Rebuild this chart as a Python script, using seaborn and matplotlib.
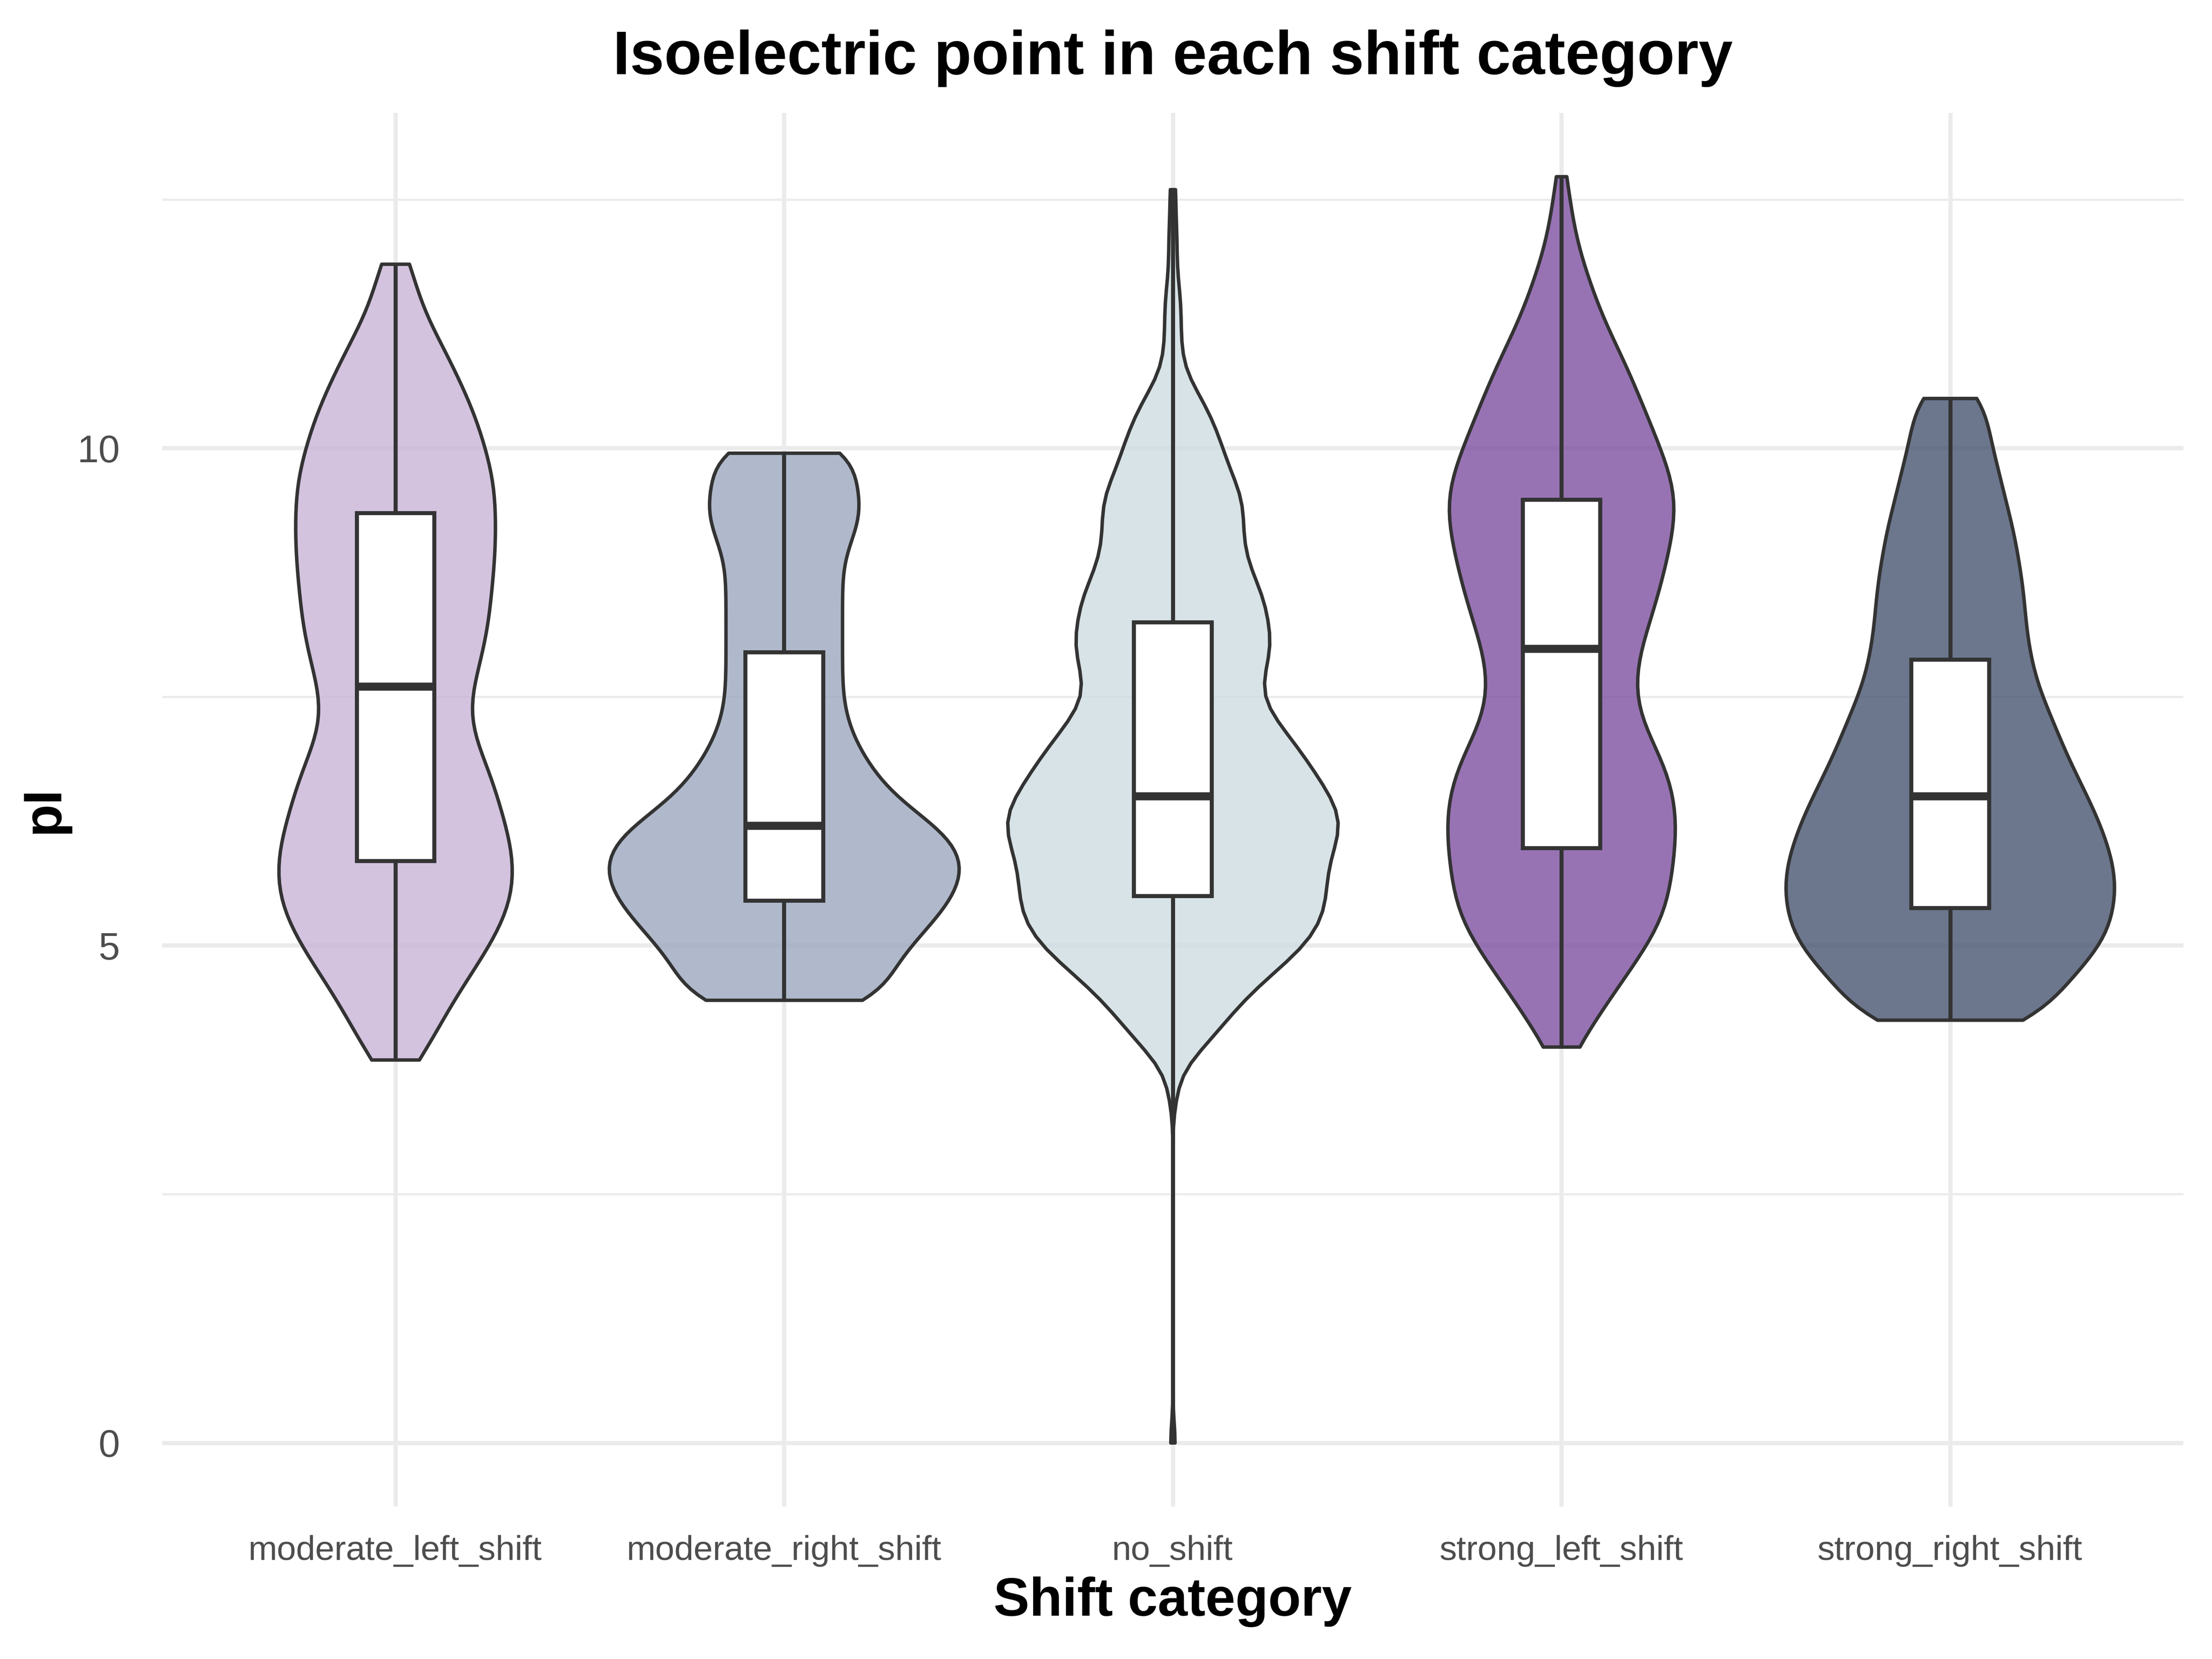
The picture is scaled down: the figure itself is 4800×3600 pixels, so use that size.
import numpy as np
import pandas as pd
import matplotlib
matplotlib.use("Agg")
import matplotlib.pyplot as plt
import seaborn as sns

sns.set_style("white")
plt.rcParams['font.family'] = ['Liberation Sans', 'DejaVu Sans']

categories = ['moderate_left_shift', 'moderate_right_shift', 'no_shift',
              'strong_left_shift', 'strong_right_shift']
colors = ['#c9b5d8', '#9ca8bf', '#cedde0', '#7e50a1', '#475571']
# violin widths as drawn in the reference (ggplot scale = "area")
violin_widths = [0.60, 0.90, 0.85, 0.585, 0.845]
bandwidths = [0.14, 0.15, 0.11, 0.14, 0.15]

mls_pi = [3.85, 4.10, 4.35, 4.60, 4.85, 5.10, 5.35, 5.60, 5.85, 6.10, 6.35,
          6.60, 6.85, 7.10, 7.35, 7.60, 7.85, 8.10, 8.35, 8.60, 8.85, 9.10,
          9.35, 9.60, 9.85, 10.10, 10.35, 10.60, 10.85, 11.10, 11.35, 11.60, 11.85]
mls_n = [6, 8, 11, 14, 18, 21, 24, 25, 25, 24, 22,
         21, 19, 16, 15, 16, 18, 19, 20, 20, 21, 21,
         21, 21, 20, 18, 17, 14, 12, 9, 6, 4, 4]

mrs_pi = [4.45, 4.70, 4.95, 5.20, 5.45, 5.70, 5.95, 6.20, 6.45, 6.70, 6.95, 7.20,
          7.45, 7.70, 7.95, 8.20, 8.45, 8.70, 8.95, 9.20, 9.45, 9.70, 9.95]
mrs_n = [20, 17, 21, 25, 29, 31, 31, 27, 19, 16, 13, 11,
         10, 10, 10, 10, 10, 10, 10, 13, 14, 11, 15]

ns_pi = [0.0, 3.50, 3.75, 4.00, 4.25, 4.50, 4.75, 5.00, 5.25, 5.50, 5.75, 6.00,
         6.25, 6.50, 6.75, 7.00, 7.25, 7.50, 7.75, 8.00, 8.25, 8.50, 8.75, 9.00,
         9.25, 9.50, 9.75, 10.00, 10.25, 10.50, 10.75, 11.00, 11.25, 11.50, 11.75,
         12.00, 12.25, 12.60]
ns_n = [1, 1, 2, 8, 13, 18, 25, 32, 36, 37, 37, 39,
        41, 38, 34, 30, 25, 21, 22, 24, 23, 22, 19, 17,
        17, 17, 14, 12, 10, 7, 3, 2, 2, 2, 1,
        1, 1, 1]

sls_pi = [3.98, 4.23, 4.48, 4.73, 4.98, 5.23, 5.48, 5.73, 5.98, 6.23, 6.48, 6.73,
          6.98, 7.23, 7.48, 7.73, 7.98, 8.23, 8.48, 8.73, 8.98, 9.23, 9.48, 9.73,
          9.98, 10.23, 10.48, 10.73, 10.98, 11.23, 11.48, 11.73, 11.98, 12.23, 12.48, 12.73]
sls_n = [6, 11, 17, 23, 29, 35, 37, 38, 39, 40, 39, 37,
         33, 27, 25, 25, 27, 30, 33, 35, 37, 39, 40, 38,
         34, 31, 27, 24, 20, 15, 12, 9, 6, 4, 3, 2]

srs_pi = [4.25, 4.50, 4.75, 5.00, 5.25, 5.50, 5.75, 6.00, 6.25, 6.50, 6.75, 7.00, 7.25,
          7.50, 7.75, 8.00, 8.25, 8.50, 8.75, 9.00, 9.25, 9.50, 9.75, 10.00, 10.25, 10.50]
srs_n = [24, 25, 31, 37, 39, 40, 40, 38, 36, 33, 30, 27, 25,
         22, 20, 19, 18, 18, 17, 16, 15, 13, 12, 10, 9, 9]

frames = []
for cat, pi, n in zip(categories,
                      [mls_pi, mrs_pi, ns_pi, sls_pi, srs_pi],
                      [mls_n, mrs_n, ns_n, sls_n, srs_n]):
    frames.append(pd.DataFrame({'category': cat, 'pI': np.repeat(pi, n)}))
df = pd.concat(frames, ignore_index=True)

fig, ax = plt.subplots(figsize=(16, 12))
fig.subplots_adjust(left=0.0733, right=0.987, top=0.932, bottom=0.092)

# one violin per call so each gets its own width and bandwidth
for cat, c, w, bw in zip(categories, colors, violin_widths, bandwidths):
    sns.violinplot(data=df[df['category'] == cat], x='category', y='pI',
                   order=categories, color=c, cut=0, density_norm='width',
                   bw_method=bw, width=w, inner=None, linewidth=1.8,
                   linecolor='#333333', saturation=1, ax=ax)
    # fill semi-transparent, outline stays solid
    ax.collections[-1].set_facecolor(matplotlib.colors.to_rgba(c, 0.8))

sns.boxplot(data=df, x='category', y='pI', order=categories, width=0.2,
            whis=(0, 100), showfliers=False, showcaps=False, color='white',
            linecolor='#333333', linewidth=2.1, saturation=1,
            medianprops={'linewidth': 4.2}, ax=ax)

ax.set_xlim(-0.6, 4.6)
ax.set_ylim(-0.64, 13.37)
ax.set_yticks([0, 5, 10])
ax.set_yticks([2.5, 7.5, 12.5], minor=True)
ax.grid(True, which='major', color='#ebebeb', linewidth=2.2)
ax.grid(True, which='minor', axis='y', color='#ebebeb', linewidth=1.1)
ax.set_axisbelow(True)
for s in ax.spines.values():
    s.set_visible(False)
ax.tick_params(which='both', length=0)
ax.tick_params(axis='x', labelsize=18, labelcolor='#4d4d4d', pad=15)
ax.tick_params(axis='y', labelsize=20, labelcolor='#4d4d4d', pad=22)

ax.set_title('Isoelectric point in each shift category', fontsize=32,
             fontweight='bold', color='black', pad=20)
ax.set_xlabel('Shift category', fontsize=28, fontweight='bold', color='black', labelpad=5)
ax.set_ylabel('pI', fontsize=28, fontweight='bold', color='black', labelpad=4)

fig.savefig('out.png', dpi=300)
